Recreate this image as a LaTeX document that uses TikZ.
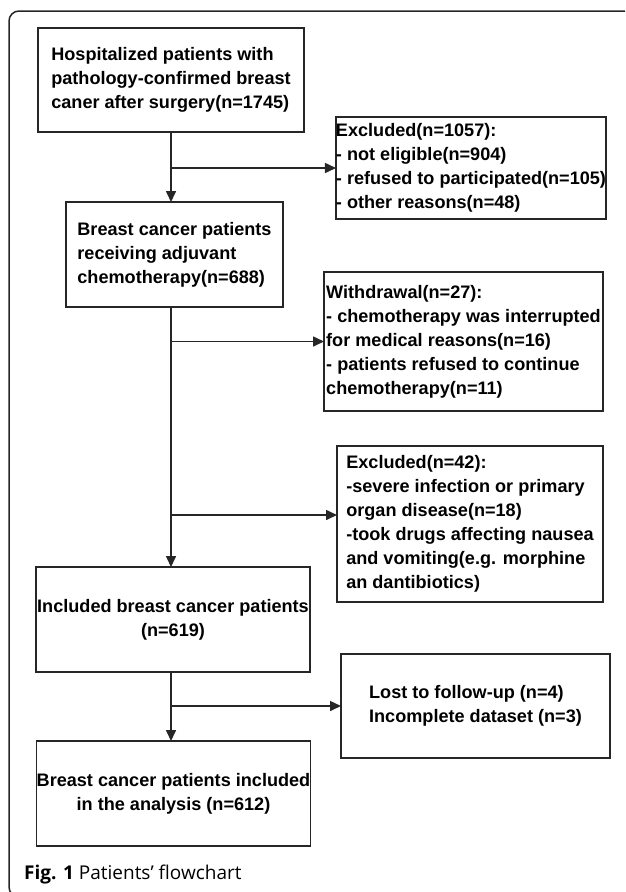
\documentclass[tikz,border=0pt]{standalone}
\usepackage{fontspec}
\setmainfont{Liberation Sans}
\newfontfamily\capfont{Open Sans}
\usetikzlibrary{arrows.meta}

\begin{document}
\begin{tikzpicture}[x=1pt, y=-1pt,
    box/.style={draw=black!85, line width=1.6pt, inner sep=0pt, outer sep=0pt,
      align=left, font=\fontsize{18.1}{24}\selectfont\bfseries},
    arr/.style={draw=black!85, line width=1.6pt, -{Triangle[length=11pt,width=10pt]}}]
  \useasboundingbox (0,0) rectangle (625,892);
  \clip (0,0) rectangle (625,892);

  % Outer frame
  \draw[black!85, line width=1.5pt, rounded corners=10pt] (9,11) rectangle (700,897);

  % Main column
  \node[box, minimum width=266pt, minimum height=104pt] (start) at (171,80)
    {Hospitalized patients with\\pathology-confirmed breast\\caner after surgery(n=1745)};
  \node[box, minimum width=217pt, minimum height=105pt] (chemo) at (174.5,254.5)
    {Breast cancer patients\\receiving adjuvant\\chemotherapy(n=688)};
  \node[box, align=center, minimum width=274pt, minimum height=105pt] (included) at (173,619.5)
    {Included breast cancer patients\\(n=619)};
  \node[box, align=center, minimum width=273pt, minimum height=105pt] (analysis) at (173.5,793.5)
    {Breast cancer patients included\\in the analysis (n=612)};

  % Side boxes
  \node[box, minimum width=270pt, minimum height=102pt] (exclA) at (471,168)
    {Excluded(n=1057):\\- not eligible(n=904)\\- refused to participated(n=105)\\- other reasons(n=48)};
  \node[box, minimum width=279pt, minimum height=139pt] (withdraw) at (463.5,341.5)
    {Withdrawal(n=27):\\- chemotherapy was interrupted\\for medical reasons(n=16)\\- patients refused to continue\\chemotherapy(n=11)};
  \node[box, minimum width=266pt, minimum height=156pt] (exclB) at (470,524)
    {Excluded(n=42):\\-severe infection or primary\\organ disease(n=18)\\-took drugs affecting nausea\\and vomiting(e.g. morphine\\an dantibiotics)};
  \node[box, minimum width=269pt, minimum height=104pt] (lost) at (475.5,706)
    {Lost to follow-up (n=4)\\Incomplete dataset (n=3)};
  \coordinate (exclBin) at ([yshift=9pt]exclB.west);

  % Trunk
  \draw[arr] (start.south) -- (start.south |- chemo.north);
  \draw[arr] (chemo.south -| start.south) -- (start.south |- included.north);
  \draw[arr] (included.south -| start.south) -- (start.south |- analysis.north);

  % Branches
  \draw[arr] (start.south |- exclA.west) -- (exclA.west);
  \draw[arr] (start.south |- withdraw.west) -- (withdraw.west);
  \draw[arr] (start.south |- exclBin) -- (exclBin);
  \draw[arr] (start.south |- lost.west) -- (lost.west);

  % Caption
  \node[anchor=west, inner sep=0pt, font=\capfont\fontsize{19}{22}\selectfont] (caption) at (24,875)
    {\textbf{Fig. 1} Patients’ flowchart};
\end{tikzpicture}
\end{document}
